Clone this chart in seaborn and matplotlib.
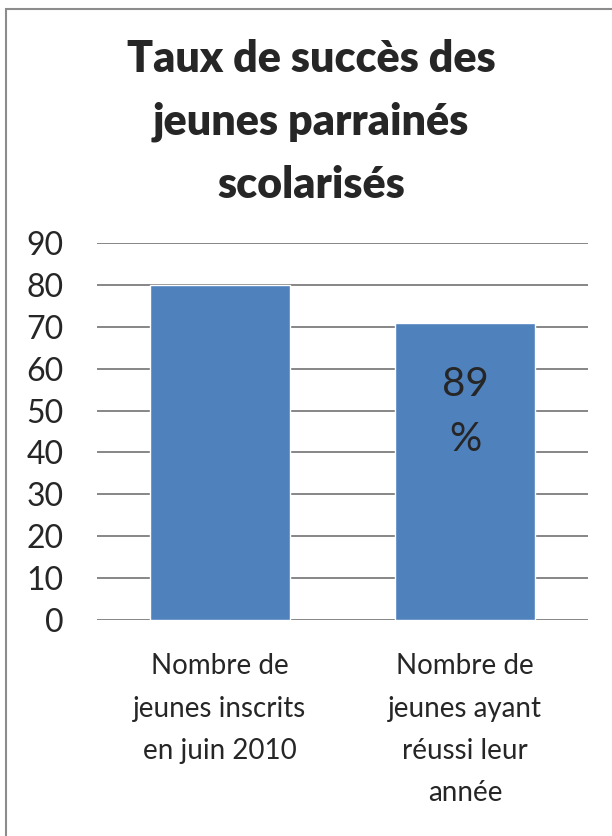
import numpy as np
import pandas as pd
import matplotlib.pyplot as plt
import seaborn as sns
from matplotlib.patches import Rectangle

sns.set_style('white')
plt.rcParams['font.family'] = ['Lato', 'DejaVu Sans']

# data
categories = ['Nombre de\njeunes inscrits\nen juin 2010', 'Nombre de\njeunes ayant\nréussi leur\nannée']
values = [80, 71]
bar_label = '89\n%'

df = pd.DataFrame({'cat': categories, 'val': values})

fig = plt.figure(figsize=(6.12, 8.36), dpi=100)
ax = fig.add_axes([97 / 612, 0.2584, 491 / 612, 0.4509])

sns.barplot(data=df, x='cat', y='val', color='#4F81BD', saturation=1, width=0.57, ax=ax, zorder=3)

ax.set_ylim(0, 90)
ax.set_yticks(range(0, 91, 10))
ax.set_xlim(-0.5, 1.5)
ax.grid(axis='y', color='#868686', linewidth=1.4, zorder=0)
ax.set_axisbelow(True)
for s in ax.spines.values():
    s.set_visible(False)
ax.set_xlabel('')
ax.set_ylabel('')
ax.tick_params(axis='y', length=0, labelsize=23, pad=24)
ax.tick_params(axis='x', length=0, labelsize=20, pad=24)
for lbl in ax.get_xticklabels():
    lbl.set_linespacing(1.78)

ax.text(1, 49.6, bar_label, ha='center', va='center', fontsize=29, linespacing=1.6, zorder=4)

fig.text(0.508, 0.854, 'Taux de succès des\njeunes parrainés\nscolarisés', ha='center', va='center',
         fontsize=31, fontweight='heavy', linespacing=1.68)

# chart border
fig.patches.append(Rectangle((6 / 612, -0.01), 1.0, 1 - 9 / 836 + 0.01, transform=fig.transFigure,
                             fill=False, edgecolor='#8c8c8c', linewidth=1.5))

plt.savefig('out.png', dpi=100)
